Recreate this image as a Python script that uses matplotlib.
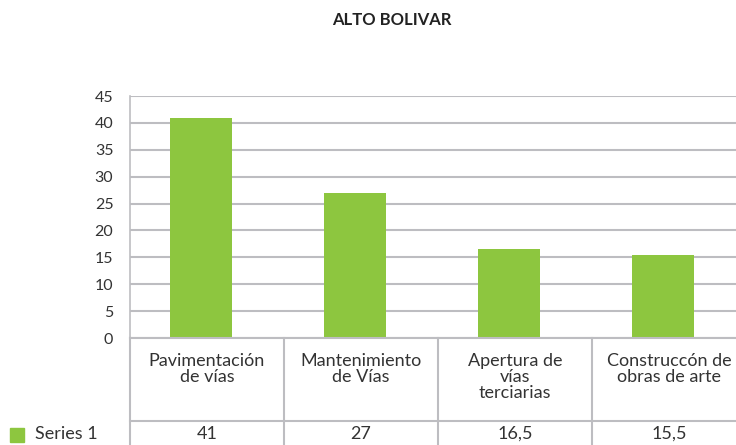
import matplotlib.pyplot as plt
import numpy as np
from matplotlib.patches import Rectangle

# Data
categories = ["Pavimentación\nde vías", "Mantenimiento\nde Vías",
              "Apertura de\nvías\nterciarias", "Construccón de\nobras de arte"]
values = [41, 27, 16.5, 15.5]
value_labels = ["41", "27", "16,5", "15,5"]
series_name = "Series 1"
yticks = [0, 5, 10, 15, 20, 25, 30, 35, 40, 45]

bar_color = "#8DC63F"
grid_color = "#BDBDC1"
text_color = "#333333"

plt.rcParams['font.family'] = ['Lato', 'DejaVu Sans']

fig = plt.figure(figsize=(7.36, 4.45), dpi=100)
W, H = 736, 445

# plot area: x 130 -> 746 (cropped at right), y 96 -> 338 (pixels from top)
left, right, top, bottom = 130, 746, 96, 338
ax = fig.add_axes([left / W, 1 - bottom / H, (right - left) / W, (bottom - top) / H])

x = np.arange(len(categories))
ax.bar(x - 0.04, values, width=0.4, color=bar_color, zorder=3)
ax.set_xlim(-0.5, len(categories) - 0.5)
ax.set_ylim(0, 45)
ax.set_yticks(yticks)
ax.set_yticklabels([str(t) for t in yticks], fontsize=11.5, color=text_color)
ax.tick_params(axis='y', length=0, pad=12)
ax.set_xticks([])
ax.yaxis.grid(True, color=grid_color, linewidth=1.5, zorder=0)
for side in ['top', 'right', 'bottom']:
    ax.spines[side].set_visible(False)
ax.spines['left'].set_color(grid_color)
ax.spines['left'].set_linewidth(1.2)

# data table below the plot, drawn in figure pixels
row_sep = 421
def fy(py):
    return 1 - py / H

col_w = (right - left) / len(categories)
fig.add_artist(plt.Line2D([left / W, 1], [fy(bottom), fy(bottom)], color=grid_color, lw=1.5))
fig.add_artist(plt.Line2D([left / W, 1], [fy(row_sep), fy(row_sep)], color=grid_color, lw=1.5))
for k in range(len(categories) + 1):
    xp = (left + k * col_w) / W
    fig.add_artist(plt.Line2D([xp, xp], [fy(bottom), 0], color=grid_color, lw=1.5))

for k, (cat, lab) in enumerate(zip(categories, value_labels)):
    xc = (left + (k + 0.5) * col_w) / W
    fig.text(xc, fy(353), cat, ha='center', va='top', fontsize=13,
             color=text_color, linespacing=1.0)
    fig.text(xc, fy(434), lab, ha='center', va='center', fontsize=13, color=text_color)

# legend key
fig.add_artist(Rectangle((10 / W, fy(442)), 14 / W, 14 / H, transform=fig.transFigure,
                         color=bar_color))
fig.text(35 / W, fy(434), series_name, ha='left', va='center', fontsize=13, color=text_color)

fig.text(392 / W, fy(20), "ALTO BOLIVAR", ha='center', va='center', fontsize=12,
         fontweight='bold', color='#222222')

fig.savefig("out.png", dpi=100)
